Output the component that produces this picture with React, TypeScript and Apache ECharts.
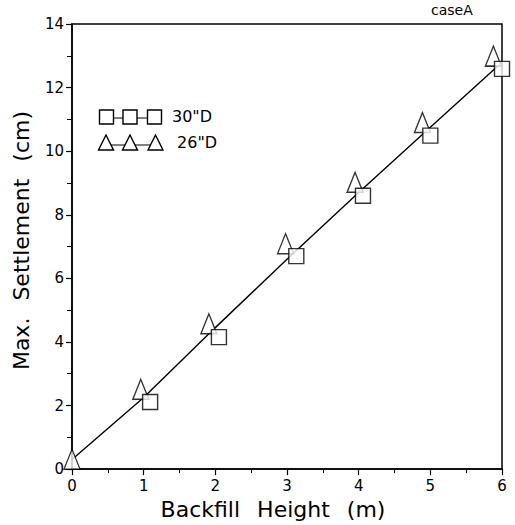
import React, { useEffect, useRef } from "react";
import * as echarts from "echarts";

// Backfill height (m) and the fitted settlement line (cm)
const lineHeights = [0, 1, 2, 3, 4, 5, 6];
const lineSettlement = [0.3, 2.25, 4.45, 6.6, 8.7, 10.75, 12.8];

// 30"D pipe measurements
const d30Heights = [1.09, 2.05, 3.13, 4.06, 5.0, 6.0];
const d30Settlement = [2.11, 4.15, 6.7, 8.6, 10.49, 12.59];

// 26"D pipe measurements
const d26Heights = [0, 0.96, 1.91, 2.98, 3.95, 4.89, 5.88];
const d26Settlement = [0.31, 2.51, 4.57, 7.09, 9.02, 10.9, 12.99];

const xTicks = [0, 1, 2, 3, 4, 5, 6];
const yTicks = [0, 2, 4, 6, 8, 10, 12, 14];

const xTitleWords = ["Backfill", "Height", "(m)"];
const yTitleWords = ["Max.", "Settlement", "(cm)"];

const FONT = "'DejaVu Sans', sans-serif";

function tri(cx: number, cy: number, w: number, h: number) {
  return [
    [cx, cy - h / 2],
    [cx + w / 2, cy + h / 2],
    [cx - w / 2, cy + h / 2],
  ];
}

// Axis title with wide gaps between its words
function spaced(words: string[]) {
  return words.map((w) => `{w|${w}}`).join("{g|}");
}

export default function App() {
  const ref = useRef<HTMLDivElement>(null);

  useEffect(() => {
    document.body.style.margin = "0";
    if (!ref.current) return;
    const chart = echarts.init(ref.current, null, { renderer: "svg" });

    const zip = (xs: number[], ys: number[]) => xs.map((x, i) => [x, ys[i]]);

    const titleRich = {
      w: { fontFamily: FONT, fontSize: 22, color: "#000" },
      g: { width: 17 },
    };

    const legendGraphics: any[] = [
      {
        type: "line",
        shape: { x1: 106, y1: 118, x2: 155, y2: 118 },
        style: { stroke: "#000", lineWidth: 1.2 },
        z: 10,
      },
      ...[106.5, 130, 154.5].map((cx) => ({
        type: "rect",
        shape: { x: cx - 7, y: 110, width: 14, height: 14 },
        style: { fill: "#fff", stroke: "#000", lineWidth: 1.4 },
        z: 11,
      })),
      {
        type: "text",
        left: 172,
        top: 108,
        style: { text: "30\"D", font: `16px ${FONT}`, fill: "#000" },
        z: 11,
      },
      {
        type: "line",
        shape: { x1: 106, y1: 145, x2: 155, y2: 145 },
        style: { stroke: "#000", lineWidth: 1.2 },
        z: 10,
      },
      ...[106, 130, 155.5].map((cx) => ({
        type: "polygon",
        shape: { points: tri(cx, 142.5, 15, 15) },
        style: { fill: "#fff", stroke: "#000", lineWidth: 1.4 },
        z: 11,
      })),
      {
        type: "text",
        left: 172,
        top: 134,
        style: { text: " 26\"D", font: `16px ${FONT}`, fill: "#000" },
        z: 11,
      },
      {
        type: "text",
        left: 431,
        top: 3,
        style: { text: "caseA", font: `14px ${FONT}`, fill: "#000" },
      },
    ];

    chart.setOption({
      animation: false,
      backgroundColor: "#fff",
      grid: {
        left: 72,
        right: 13,
        top: 24,
        bottom: 53,
        show: true,
        borderColor: "#000",
        borderWidth: 1.5,
      },
      xAxis: {
        type: "value",
        min: xTicks[0],
        max: xTicks[xTicks.length - 1],
        interval: 1,
        name: spaced(xTitleWords),
        nameLocation: "middle",
        nameGap: 27,
        nameTextStyle: { rich: titleRich, padding: [0, 28, 0, 0] },
        axisLine: { show: true, lineStyle: { color: "#000", width: 1.5 } },
        axisTick: { show: true, length: 6, lineStyle: { color: "#000", width: 1.2 } },
        minorTick: { show: true, splitNumber: 2, length: 4, lineStyle: { color: "#000", width: 1 } },
        axisLabel: { fontFamily: FONT, fontSize: 15, color: "#000", margin: 9 },
        splitLine: { show: false },
      },
      yAxis: {
        type: "value",
        min: yTicks[0],
        max: yTicks[yTicks.length - 1],
        interval: 2,
        name: spaced(yTitleWords),
        nameLocation: "middle",
        nameGap: 40,
        nameTextStyle: { rich: titleRich, padding: [0, 0, 0, 12] },
        axisLine: { show: true, lineStyle: { color: "#000", width: 1.5 } },
        axisTick: { show: true, length: 6, lineStyle: { color: "#000", width: 1.2 } },
        minorTick: { show: true, splitNumber: 2, length: 5, lineStyle: { color: "#000", width: 1 } },
        axisLabel: { fontFamily: FONT, fontSize: 15, color: "#000", margin: 8 },
        splitLine: { show: false },
      },
      graphic: legendGraphics,
      series: [
        {
          type: "line",
          data: zip(lineHeights, lineSettlement),
          symbol: "none",
          lineStyle: { color: "#000", width: 1.4 },
          z: 2,
        },
        {
          name: "26\"D",
          type: "scatter",
          data: zip(d26Heights, d26Settlement),
          symbol: "triangle",
          symbolSize: [16, 20],
          itemStyle: { color: "#fff", borderColor: "#000", borderWidth: 1.4 },
          z: 3,
        },
        {
          name: "30\"D",
          type: "scatter",
          data: zip(d30Heights, d30Settlement),
          symbol: "rect",
          symbolSize: 15,
          itemStyle: { color: "#fff", borderColor: "#000", borderWidth: 1.4 },
          z: 4,
        },
      ],
    });

    return () => chart.dispose();
  }, []);

  return <div ref={ref} style={{ width: 515, height: 525 }} />;
}
